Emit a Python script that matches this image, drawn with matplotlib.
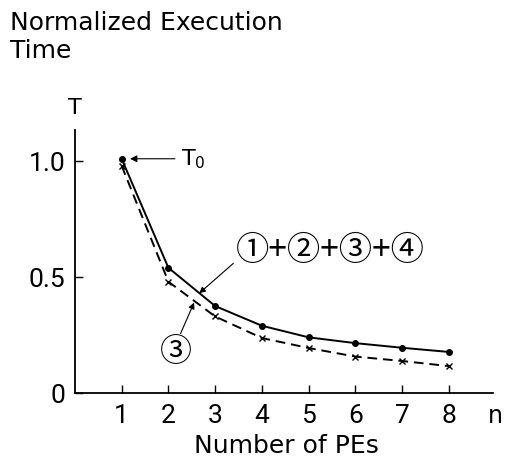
import matplotlib
matplotlib.use("Agg")
import matplotlib.pyplot as plt

# number of processing elements
n_pe = [1, 2, 3, 4, 5, 6, 7, 8]
# normalized execution time, all overheads (1)+(2)+(3)+(4)
t_all = [1.01, 0.54, 0.375, 0.29, 0.24, 0.215, 0.195, 0.177]
# normalized execution time, overhead (3) only
t_three = [0.98, 0.48, 0.33, 0.237, 0.194, 0.157, 0.138, 0.116]

plt.rcParams['font.family'] = ['DejaVu Sans', 'Noto Sans CJK JP']
num_font = ['Roboto', 'DejaVu Sans']
circ_font = ['Noto Sans CJK JP', 'DejaVu Sans']

fig = plt.figure(figsize=(5.06, 4.61), dpi=100)
ax = fig.add_axes([0.148, 0.1475, 0.826, 0.5705])

ax.plot(n_pe, t_all, color='black', lw=1.4, marker='o', ms=4)
ax.plot(n_pe, t_three, color='black', lw=1.4, ls=(0, (5, 3)), marker='x', ms=5, mew=1)

ax.set_xlim(0, 8.94)
ax.set_ylim(0, 1.134)
ax.spines['top'].set_visible(False)
ax.spines['right'].set_visible(False)
ax.spines['left'].set_linewidth(1.3)
ax.spines['bottom'].set_linewidth(1.3)

ax.set_xticks(n_pe)
ax.set_xticklabels([str(v) for v in n_pe], family=num_font, fontsize=19)
ax.set_yticks([0, 0.5, 1.0])
ax.set_yticklabels(['0', '0.5', '1.0'], family=num_font, fontsize=19)
ax.tick_params(axis='x', direction='in', length=6, width=1, pad=8)
ax.tick_params(axis='y', direction='in', length=6, width=1, pad=7)

fig.text(10 / 506, 1 - 11 / 461, 'Normalized Execution\nTime', fontsize=18,
         va='top', ha='left', linespacing=1.2)
fig.text(75 / 506, 1 - 108 / 461, 'T', fontsize=16, ha='center', va='center')
fig.text(495 / 506, 1 - 416 / 461, 'n', fontsize=17, ha='center', va='center')
fig.text(286 / 506, 1 - 446 / 461, 'Number of PEs', fontsize=18, ha='center', va='center')

ax.annotate('', xy=(1.12, 1.01), xytext=(2.2, 1.01),
            arrowprops=dict(arrowstyle='-|>', color='black', lw=0.8, mutation_scale=10))
ax.text(2.28, 1.01, r'T$_0$', fontsize=16, ha='left', va='center')

ax.annotate('①+②+③+④', xy=(2.66, 0.43), xytext=(3.45, 0.615),
            fontsize=24, family=circ_font, ha='left', va='center',
            arrowprops=dict(arrowstyle='-|>', color='black', lw=0.8, mutation_scale=9,
                            shrinkA=0, shrinkB=0, relpos=(0, 0.2)))
ax.annotate('③', xy=(2.55, 0.39), xytext=(2.17, 0.175),
            fontsize=23, family=circ_font, ha='center', va='center',
            arrowprops=dict(arrowstyle='-|>', color='black', lw=0.8, mutation_scale=9,
                            shrinkA=0, shrinkB=0, relpos=(0.55, 0.9)))

fig.savefig('out.png', dpi=100)
